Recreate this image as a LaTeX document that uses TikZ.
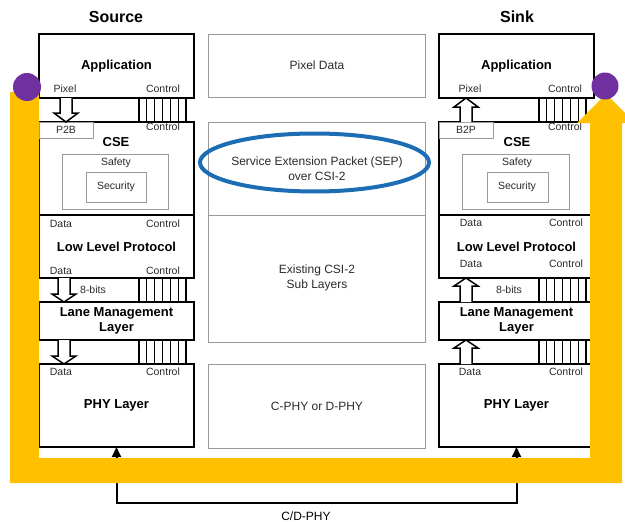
\documentclass[tikz,border=0pt]{standalone}
\usepackage{fontspec}
\setmainfont{Liberation Sans}
\usetikzlibrary{calc,arrows.meta}
\definecolor{amber}{HTML}{FFC000}
\definecolor{plum}{HTML}{7030A0}
\definecolor{sepblue}{HTML}{1C6DB4}
\definecolor{thingray}{HTML}{9A9A9A}
\definecolor{ink}{HTML}{2A2A2A}

\tikzset{
  stackbox/.style={draw=black, line width=2pt, fill=white, inner sep=0pt, outer sep=0pt,
    anchor=north west, align=center, font=\bfseries\fontsize{13}{15.5}\selectfont},
  midbox/.style={draw=thingray, line width=1pt, inner sep=0pt, outer sep=0pt, anchor=north west},
  subbox/.style={draw=thingray, line width=0.9pt, inner sep=0pt, outer sep=0pt, anchor=north west},
  tag/.style={font=\fontsize{10.5}{12}\selectfont, text=ink, inner sep=0pt},
  heading/.style={font=\bfseries\fontsize{13}{15}\selectfont, inner sep=0pt},
  midtext/.style={font=\fontsize{12}{15.5}\selectfont, text=ink, align=center, inner sep=0pt},
  sidetitle/.style={font=\bfseries\fontsize{16}{18}\selectfont, inner sep=0pt},
  busline/.style={line width=1.3pt},
  hollow/.style={draw=black, fill=white, line width=1.5pt, line join=miter},
  phylink/.style={line width=2pt, {Triangle[width=9pt,length=10pt]}-{Triangle[width=9pt,length=10pt]}},
}

% block arrow: tail, tip, signed head length
\newcommand\hollowarrow[3]{%
  \filldraw[hollow] ($(#1)+(-6,0)$) -- ($(#2)+(-6,#3)$) -- ($(#2)+(-12,#3)$) -- (#2)
    -- ($(#2)+(12,#3)$) -- ($(#2)+(6,#3)$) -- ($(#1)+(6,0)$);}
% seven-wire control bus between two stacked boxes
\newcommand\ctrlbus[2]{%
  \foreach \k in {0,...,6}
    \draw[busline] ($(#1.south west)+(100+7.83*\k,0)$) -- ($(#2.north west)+(100+7.83*\k,0)$);}

\begin{document}
\begin{tikzpicture}[x=1pt, y=-1pt]
\useasboundingbox (0,0) rectangle (625,522);
\clip (0,0) rectangle (625,522);

% ---------- titles ----------
\node[sidetitle] (srctitle) at (116,17) {Source};
\node[sidetitle] (snktitle) at (517,17) {Sink};

% ---------- source stack ----------
\node[stackbox, minimum width=155, minimum height=64] (sapp) at (39,34) {Application};
\node[stackbox, minimum width=155, minimum height=93] (scse) at (39,122) {};
\node[stackbox, minimum width=155, minimum height=63] (sllp) at (39,215) {Low Level Protocol};
\node[stackbox, minimum width=155, minimum height=38] (slml) at (39,302) {Lane Management\\Layer};
\node[stackbox, minimum width=155, minimum height=83] (sphy) at (39,364) {PHY Layer};

\node[subbox, minimum width=54, minimum height=16] (sp2b) at (39,122) {};
\node[subbox, minimum width=106, minimum height=55] (ssafe) at (62,154) {};
\node[subbox, minimum width=60, minimum height=30] (ssec) at (86,172) {};

\node[tag] (spix) at (65,89) {Pixel};
\node[tag] (sctl1) at (163,89) {Control};
\node[tag] (sp2bt) at (66,130) {P2B};
\node[tag] (sctl2) at (163,127) {Control};
\node[heading] (scset) at (116,142) {CSE};
\node[tag] (ssafet) at (116,163) {Safety};
\node[tag] (ssect) at (116,187) {Security};
\node[tag] (sdat1) at (61,224) {Data};
\node[tag] (sctl3) at (163,224) {Control};
\node[tag] (sdat2) at (61,271) {Data};
\node[tag] (sctl4) at (163,271) {Control};
\node[tag] (sbits) at (93,290) {8-bits};
\node[tag] (sdat3) at (61,372) {Data};
\node[tag] (sctl5) at (163,372) {Control};

\hollowarrow{$(sapp.south west)+(27,0)$}{$(scse.north west)+(27,0)$}{-9}
\hollowarrow{$(sllp.south west)+(25,0)$}{$(slml.north west)+(25,0)$}{-8}
\hollowarrow{$(slml.south west)+(25,0)$}{$(sphy.north west)+(25,0)$}{-8}
\ctrlbus{sapp}{scse}
\ctrlbus{sllp}{slml}
\ctrlbus{slml}{sphy}

% ---------- sink stack ----------
\node[stackbox, minimum width=155, minimum height=64] (kapp) at (439,34) {Application};
\node[stackbox, minimum width=155, minimum height=93] (kcse) at (439,122) {};
\node[stackbox, minimum width=155, minimum height=63] (kllp) at (439,215) {Low Level Protocol};
\node[stackbox, minimum width=155, minimum height=38] (klml) at (439,302) {Lane Management\\Layer};
\node[stackbox, minimum width=155, minimum height=83] (kphy) at (439,364) {PHY Layer};

\node[subbox, minimum width=54, minimum height=16] (kb2p) at (439,122) {};
\node[subbox, minimum width=107, minimum height=55] (ksafe) at (462,154) {};
\node[subbox, minimum width=61, minimum height=30] (ksec) at (487,172) {};

\node[tag] (kpix) at (470,89) {Pixel};
\node[tag] (kctl1) at (565,89) {Control};
\node[tag] (kb2pt) at (466,130) {B2P};
\node[tag] (kctl2) at (565,127) {Control};
\node[heading] (kcset) at (517,142) {CSE};
\node[tag] (ksafet) at (517,163) {Safety};
\node[tag] (ksect) at (517,187) {Security};
\node[tag] (kdat1) at (471,223) {Data};
\node[tag] (kctl3) at (566,223) {Control};
\node[tag] (kdat2) at (471,264) {Data};
\node[tag] (kctl4) at (566,264) {Control};
\node[tag] (kbits) at (509,290) {8-bits};
\node[tag] (kdat3) at (470,372) {Data};
\node[tag] (kctl5) at (566,372) {Control};

\hollowarrow{$(kcse.north west)+(27,0)$}{$(kapp.south west)+(27,0)$}{9}
\hollowarrow{$(klml.north west)+(27,0)$}{$(kllp.south west)+(27,0)$}{8}
\hollowarrow{$(kphy.north west)+(27,0)$}{$(klml.south west)+(27,0)$}{8}
\ctrlbus{kapp}{kcse}
\ctrlbus{kllp}{klml}
\ctrlbus{klml}{kphy}

% ---------- middle column ----------
\node[midbox, minimum width=217, minimum height=63] (mpix) at (208,34) {};
\node[midbox, minimum width=217, minimum height=93] (msep) at (208,122) {};
\node[midbox, minimum width=217, minimum height=127] (mcsi) at (208,215) {};
\node[midbox, minimum width=217, minimum height=84] (mphy) at (208,364) {};

\node[midtext] (mpixt) at (317,65) {Pixel Data};
\node[midtext] (msept) at (317,168.5) {Service Extension Packet (SEP)\\over CSI-2};
\node[midtext] (mcsit) at (317,278) {Existing CSI-2\\Sub Layers};
\node[midtext] (mphyt) at (317,406) {C-PHY or D-PHY};

\draw[sepblue, line width=4pt] (314.5,162.5) ellipse [x radius=114.5, y radius=29];

% ---------- physical link ----------
\draw[phylink] (sphy.south) -- ++(0,56) coordinate (linkbend) -| (kphy.south);
\node[midtext, text=black] (linklabel) at (306,516) {C/D-PHY};

% ---------- highlight loop ----------
\fill[amber] (10,92) -- (10,483) -- (622,483) -- (622,123) -- (635,123) -- (606,94)
  -- (577,123) -- (590,123) -- (590,458) -- (39,458) -- (39,92) -- cycle;
\fill[plum] (27,87) circle [radius=14];
\fill[plum] (605,86) circle [radius=13.5];
\end{tikzpicture}
\end{document}
